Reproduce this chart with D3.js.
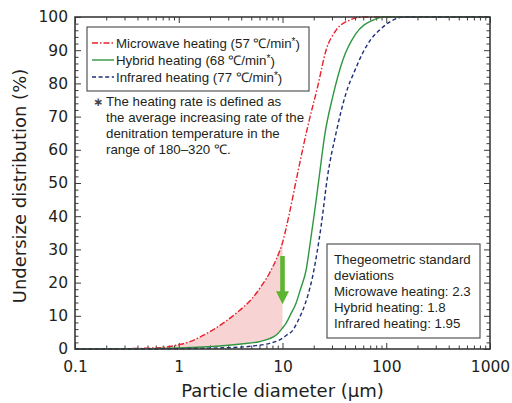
<!DOCTYPE html>
<html>
<head>
<meta charset="utf-8">
<script src="https://cdn.jsdelivr.net/npm/d3@7"></script>
<style>
  body { margin: 0; background: #fff; }
  svg { display: block; font-family: "DejaVu Sans", sans-serif; }
  .small { font-family: "Liberation Sans", Arial, sans-serif; font-size: 13.3px; }
</style>
</head>
<body>
<div id="chart"></div>
<script>
// particle size (um) vs cumulative undersize (%)
const microwaveSize = [0.1, 0.3, 0.66, 1, 1.28, 1.6, 2.12, 2.8, 3.59, 4.3, 5.15, 6.2, 7.5, 8.7, 10, 11.5, 14, 17.5, 21.8, 26.3, 32.8, 44, 60, 1000]
const microwavePct = [0, 0.1, 0.4, 1.3, 2.2, 3.6, 5.7, 8.2, 10.8, 12.9, 15.4, 18.8, 22.9, 27, 32, 40, 53, 67, 79, 90, 96, 99, 100, 100]

const hybridSize = [0.1, 0.5, 1, 2.5, 4, 5.96, 7.5, 8.7, 10, 10.8, 12, 13.5, 15, 16.9, 18.5, 20.3, 22.7, 25.4, 30.5, 38.1, 51, 74, 95, 1000]
const hybridPct = [0, 0.1, 0.3, 0.9, 1.5, 2.2, 3.1, 4.2, 6.3, 7.7, 10.5, 13.8, 18.3, 23.8, 32, 40.9, 52.4, 64, 76, 87, 95, 99, 100, 100]

const infraredSize = [0.1, 0.5, 1, 3, 5.2, 7.5, 9.3, 11, 12.6, 14, 15.7, 17.5, 19.5, 21.5, 23.5, 27.3, 32.8, 40.9, 50, 59, 72, 85.7, 115, 150, 1000]
const infraredPct = [0, 0, 0.1, 0.4, 0.9, 1.7, 2.7, 4.2, 5.7, 8.3, 11.7, 16, 21.8, 29, 36.8, 52.4, 65, 77, 84, 89, 93.5, 96, 99, 100, 100]

const xTickValues = [0.1, 1, 10, 100, 1000]
const xTickLabels = ["0.1", "1", "10", "100", "1000"]
const yTickValues = [0, 10, 20, 30, 40, 50, 60, 70, 80, 90, 100]

const legendLabels = ["Microwave heating (57 ℃/min", "Hybrid heating (68 ℃/min", "Infrared heating (77 ℃/min"]
const noteLines = ["The heating rate is defined as", "the average increasing rate of the", "denitration temperature in the", "range of 180–320 ℃."]
const statLines = ["Thegeometric standard", "deviations", "Microwave heating: 2.3", "Hybrid heating: 1.8", "Infrared heating: 1.95"]

const shadeLimit = 10          // shaded gap between microwave and hybrid up to 10 um
const arrowX = 10, arrowFrom = 28, arrowTo = 13.5

const width = 512, height = 403
const mLeft = 75, mRight = 490, mTop = 17, mBottom = 349

const svg = d3.select("#chart").append("svg")
    .attr("width", width)
    .attr("height", height)

const x = d3.scaleLog().domain([0.1, 1000]).range([mLeft, mRight])
const y = d3.scaleLinear().domain([0, 100]).range([mBottom, mTop])

const textColor = "#231f20"
const frameColor = "#3a3a3a"

function pairs(sizes, pcts) {
    return sizes.map((s, i) => ({ s: s, p: pcts[i] }))
}

const series = [
    { name: "microwave", data: pairs(microwaveSize, microwavePct), color: "#e8202a", dash: "6,2,1.5,2" },
    { name: "hybrid", data: pairs(hybridSize, hybridPct), color: "#2e9640", dash: null },
    { name: "infrared", data: pairs(infraredSize, infraredPct), color: "#1f2f78", dash: "4,2.6" }
]

// shaded region: evenodd of the two areas under the curves, cut at 10 um
const areaGen = d3.area()
    .x((d) => x(d.s))
    .y0(y(0))
    .y1((d) => y(d.p))
    .curve(d3.curveMonotoneX)

const redPart = series[0].data.filter((d) => d.s <= shadeLimit)
const greenPart = series[1].data.filter((d) => d.s <= shadeLimit)

svg.append("path")
    .attr("d", areaGen(redPart) + areaGen(greenPart))
    .attr("fill", "#f8d3d4")
    .attr("fill-rule", "evenodd")

// minor ticks
let xMinor = []
for (let dec = 0.1; dec < 1000; dec *= 10) {
    for (let k = 2; k <= 9; k++) xMinor.push(+(dec * k).toPrecision(3))
}
const yMinor = d3.range(2, 100, 2).filter((v) => v % 10 !== 0)

function addAxis(axis, transform, values, size, fmt) {
    const g = svg.append("g")
        .attr("transform", transform)
        .call(axis.tickValues(values).tickSize(-size).tickFormat(fmt))
    g.select(".domain").remove()
    g.selectAll("line").attr("stroke", frameColor).attr("stroke-width", 1)
    return g
}

const none = () => ""

addAxis(d3.axisBottom(x), `translate(0,${mBottom})`, xMinor, 3.5, none)
addAxis(d3.axisTop(x), `translate(0,${mTop})`, xMinor, 3.5, none)
addAxis(d3.axisTop(x), `translate(0,${mTop})`, xTickValues, 6, none)
addAxis(d3.axisLeft(y), `translate(${mLeft},0)`, yMinor, 3.5, none)
addAxis(d3.axisRight(y), `translate(${mRight},0)`, yMinor, 3.5, none)
addAxis(d3.axisRight(y), `translate(${mRight},0)`, yTickValues, 6, none)

const xAxis = addAxis(d3.axisBottom(x).tickPadding(11.5), `translate(0,${mBottom})`, xTickValues, 6, (d, i) => xTickLabels[i])
const yAxis = addAxis(d3.axisLeft(y).tickPadding(7), `translate(${mLeft},0)`, yTickValues, 6, d3.format("d"))

for (const g of [xAxis, yAxis]) {
    g.selectAll("text")
        .attr("fill", textColor)
        .style("font-size", "15.5px")
        .style("font-family", "DejaVu Sans, sans-serif")
}

// curves
const lineGen = d3.line()
    .x((d) => x(d.s))
    .y((d) => y(d.p))
    .curve(d3.curveMonotoneX)

svg.append("g")
    .selectAll("path")
    .data(series)
    .join("path")
    .attr("d", (d) => lineGen(d.data))
    .attr("fill", "none")
    .attr("stroke", (d) => d.color)
    .attr("stroke-width", 1.4)
    .attr("stroke-dasharray", (d) => d.dash)

// frame
svg.append("rect")
    .attr("x", mLeft)
    .attr("y", mTop)
    .attr("width", mRight - mLeft)
    .attr("height", mBottom - mTop)
    .attr("fill", "none")
    .attr("stroke", frameColor)
    .attr("stroke-width", 1.6)

// green arrow
const ax = x(arrowX)
const headY = y(arrowTo) - 13
svg.append("rect")
    .attr("x", ax - 2.3)
    .attr("y", y(arrowFrom))
    .attr("width", 4.6)
    .attr("height", headY - y(arrowFrom) + 1)
    .attr("fill", "#5cb531")
svg.append("path")
    .attr("d", `M${ax - 6.5},${headY} L${ax + 6.5},${headY} L${ax},${y(arrowTo)} Z`)
    .attr("fill", "#5cb531")

// legend
const legend = svg.append("g")
legend.append("rect")
    .attr("x", 87).attr("y", 27)
    .attr("width", 222).attr("height", 64)
    .attr("fill", "#fff")
    .attr("stroke", "#555")
    .attr("stroke-width", 1.2)

legendLabels.forEach((lab, i) => {
    const yy = 43 + i * 17
    legend.append("line")
        .attr("x1", 92).attr("x2", 114)
        .attr("y1", yy).attr("y2", yy)
        .attr("stroke", series[i].color)
        .attr("stroke-width", 1.4)
        .attr("stroke-dasharray", series[i].dash)
    const t = legend.append("text")
        .attr("class", "small")
        .attr("x", 116).attr("y", yy)
        .attr("dy", "0.35em")
        .attr("fill", textColor)
    t.append("tspan").text(lab)
    t.append("tspan").text("*").attr("dy", "-0.3em").style("font-size", "10px")
    t.append("tspan").text(")").attr("dy", "0.3em")
})

// footnote
svg.append("text")
    .attr("x", 93).attr("y", 102)
    .attr("dy", "0.35em")
    .attr("fill", "#444")
    .style("font-size", "12px")
    .style("font-weight", "bold")
    .text("∗")

svg.append("g")
    .selectAll("text")
    .data(noteLines)
    .join("text")
    .attr("class", "small")
    .attr("x", 106)
    .attr("y", (d, i) => 101 + i * 16)
    .attr("dy", "0.35em")
    .attr("fill", textColor)
    .text((d) => d)

// stats box
svg.append("rect")
    .attr("x", 327).attr("y", 244)
    .attr("width", 153).attr("height", 94)
    .attr("fill", "#fff")
    .attr("stroke", "#555")
    .attr("stroke-width", 1.2)

svg.append("g")
    .selectAll("text")
    .data(statLines)
    .join("text")
    .attr("class", "small")
    .attr("x", 334)
    .attr("y", (d, i) => 259 + i * 16)
    .attr("dy", "0.35em")
    .attr("fill", textColor)
    .text((d) => d)

// axis titles
svg.append("text")
    .attr("x", (mLeft + mRight) / 2)
    .attr("y", 391)
    .attr("dy", "0.35em")
    .attr("text-anchor", "middle")
    .attr("fill", textColor)
    .style("font-size", "18px")
    .text("Particle diameter (μm)")

svg.append("text")
    .attr("transform", "rotate(-90)")
    .attr("x", -186)
    .attr("y", 20)
    .attr("dy", "0.35em")
    .attr("text-anchor", "middle")
    .attr("fill", textColor)
    .style("font-size", "18px")
    .text("Undersize distribution (%)")
</script>
</body>
</html>
